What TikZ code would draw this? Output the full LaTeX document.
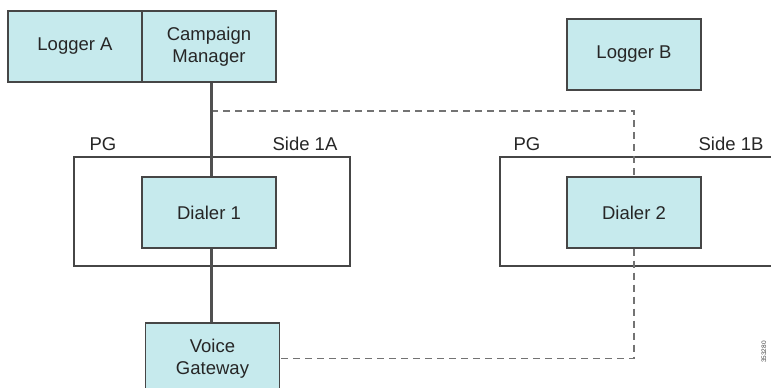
\documentclass[tikz,border=0pt]{standalone}
\usepackage{fontspec}
\setmainfont{Liberation Sans}
\usepackage{tikz}
\definecolor{boxfill}{RGB}{198,234,237}
\definecolor{boxline}{RGB}{70,70,70}
\definecolor{wire}{RGB}{80,80,80}

\begin{document}
\begin{tikzpicture}[x=1pt, y=-1pt,
    unit/.style={draw=boxline, line width=1.3pt, fill=boxfill, minimum width=134pt,
        minimum height=71pt, align=center, font=\fontsize{18.5}{22}\selectfont, text=black!85},
    pgbox/.style={draw=boxline, line width=1.1pt},
    lbl/.style={font=\fontsize{18.5}{22}\selectfont, text=black!85},
    wiresolid/.style={draw=wire, line width=3pt},
    wiredash/.style={draw=wire!80, line width=1.4pt, dash pattern=on 7pt off 5pt}]
    \useasboundingbox (0,0) rectangle (771,388);
    \clip (0,0) rectangle (771,388);
    \fill[white] (0,0) rectangle (771,388);
    % PG sides
    \draw[pgbox] (74,157) rectangle (350,266);
    \draw[pgbox] (500,157) rectangle (790,266);
    \node[lbl] (pga) at (103,144) {PG};
    \node[lbl] (sidea) at (305,144) {Side 1A};
    \node[lbl] (pgb) at (527,144) {PG};
    \node[lbl] (sideb) at (731,144) {Side 1B};
    % boxes
    \node[unit] (la) at (75,46.5) {Logger A};
    \node[unit] (cm) at (209,46.5) {Campaign\\Manager};
    \node[unit] (lb) at (634,54.5) {Logger B};
    \node[unit] (d1) at (209,212.5) {Dialer 1};
    \node[unit] (d2) at (634,212.5) {Dialer 2};
    \node[unit] (vg) at (212.5,358.5) {Voice\\Gateway};
    % links
    \coordinate (tap) at (211,111);
    \draw[wiredash] (tap) -- (tap -| d2.north) -- (d2.north);
    \draw[wiredash] (d2.south) -- (d2.south |- vg.east) -- (vg.east);
    \draw[wiresolid] (cm.south -| tap) -- (d1.north -| tap);
    \draw[wiresolid] (d1.south -| tap) -- (vg.north -| tap);
    \node[rotate=90, font=\fontsize{6.5}{7}\selectfont, text=black!70] (fig) at (764,352) {353280};
\end{tikzpicture}
\end{document}
